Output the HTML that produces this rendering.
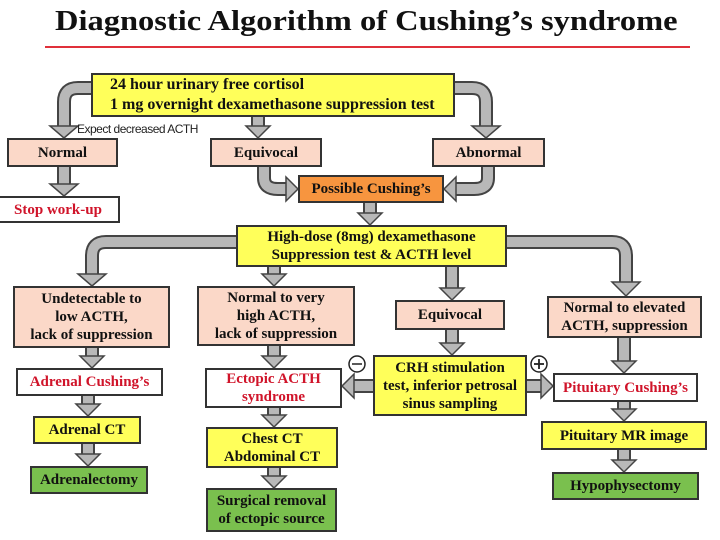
<!DOCTYPE html>
<html><head><meta charset="utf-8"><style>
body{margin:0;width:720px;height:540px;background:#fff;position:relative;overflow:hidden;font-family:"Liberation Serif",serif;}
.b{position:absolute;box-sizing:border-box;border:2px solid #333;display:flex;align-items:center;justify-content:center;text-align:center;font-weight:bold;font-size:15px;line-height:18px;color:#111;}
.y{background:#ffff5a}.p{background:#fbd8c8}.o{background:#f7953f}.g{background:#7ac04e}.w{background:#fff;color:#d0142a}
svg{position:absolute;left:0;top:0}
</style></head><body>
<div style="position:absolute;left:55px;top:5px;font-size:29px;font-weight:bold;color:#111;transform:scaleX(1.12);transform-origin:0 0;white-space:nowrap">Diagnostic Algorithm of Cushing’s syndrome</div>
<div style="position:absolute;left:45px;top:46px;width:645px;height:2px;background:#e0303a"></div>
<svg width="720" height="540">
<g fill="none" stroke-linejoin="round">
<g stroke="#444" stroke-width="14">
<path d="M92 88 H78 Q64 88 64 102 V128"/><path d="M455 88 H472 Q486 88 486 102 V128"/>
<path d="M258 117 V128"/><path d="M64 167 V186"/>
<path d="M264 167 V178 Q264 189 278 189 H288"/><path d="M488 167 V178 Q488 189 474 189 H454"/>
<path d="M370 203 V215"/>
<path d="M236 242 H106 Q92 242 92 256 V276"/><path d="M507 242 H612 Q626 242 626 256 V284"/>
<path d="M274 267 V276"/><path d="M452 267 V290"/>
<path d="M92 348 V358"/><path d="M274 346 V358"/><path d="M452 330 V345"/><path d="M624 338 V363"/>
<path d="M88 396 V406"/><path d="M274 408 V417"/><path d="M624 402 V411"/>
<path d="M88 444 V456"/><path d="M274 468 V478"/><path d="M624 450 V462"/>
<path d="M373 386 H352"/><path d="M527 386 H543"/>
</g>
<g stroke="#b8b8b8" stroke-width="10">
<path d="M92 88 H78 Q64 88 64 102 V128"/><path d="M455 88 H472 Q486 88 486 102 V128"/>
<path d="M258 117 V128"/><path d="M64 167 V186"/>
<path d="M264 167 V178 Q264 189 278 189 H288"/><path d="M488 167 V178 Q488 189 474 189 H454"/>
<path d="M370 203 V215"/>
<path d="M236 242 H106 Q92 242 92 256 V276"/><path d="M507 242 H612 Q626 242 626 256 V284"/>
<path d="M274 267 V276"/><path d="M452 267 V290"/>
<path d="M92 348 V358"/><path d="M274 346 V358"/><path d="M452 330 V345"/><path d="M624 338 V363"/>
<path d="M88 396 V406"/><path d="M274 408 V417"/><path d="M624 402 V411"/>
<path d="M88 444 V456"/><path d="M274 468 V478"/><path d="M624 450 V462"/>
<path d="M375 386 H352"/><path d="M525 386 H543"/>
</g>
</g>
<g fill="#b8b8b8" stroke="#444" stroke-width="1.5">
<polygon points="50,126 78,126 64,138"/><polygon points="472,126 500,126 486,138"/>
<polygon points="246,126 270,126 258,138"/><polygon points="50,184 78,184 64,196"/>
<polygon points="286,177 286,201 298,189"/><polygon points="456,177 456,201 444,189"/>
<polygon points="358,213 382,213 370,225"/>
<polygon points="78,274 106,274 92,286"/><polygon points="612,282 640,282 626,296"/>
<polygon points="262,274 286,274 274,286"/><polygon points="440,288 464,288 452,300"/>
<polygon points="80,356 104,356 92,368"/><polygon points="262,356 286,356 274,368"/>
<polygon points="440,343 464,343 452,355"/><polygon points="612,361 636,361 624,373"/>
<polygon points="76,404 100,404 88,416"/><polygon points="262,415 286,415 274,427"/>
<polygon points="612,409 636,409 624,421"/>
<polygon points="76,454 100,454 88,466"/><polygon points="262,476 286,476 274,488"/>
<polygon points="612,460 636,460 624,472"/>
<polygon points="354,374 354,398 342,386"/><polygon points="541,374 541,398 553,386"/>
</g>
<circle cx="357" cy="364" r="8" fill="#fff" stroke="#222" stroke-width="1.5"/><line x1="352" y1="364" x2="362" y2="364" stroke="#222" stroke-width="1.5"/>
<circle cx="539" cy="364" r="8" fill="#fff" stroke="#222" stroke-width="1.5"/><line x1="534" y1="364" x2="544" y2="364" stroke="#222" stroke-width="1.8"/><line x1="539" y1="359" x2="539" y2="369" stroke="#222" stroke-width="1.8"/>
</svg>
<div style="position:absolute;left:77px;top:122px;font-family:'Liberation Sans',sans-serif;font-size:12px;color:#222;letter-spacing:-0.5px">Expect decreased ACTH</div>
<div class="b y" style="left:91px;top:73px;width:364px;height:44px;justify-content:flex-start;padding-left:17px;text-align:left;font-size:16px;line-height:20px">24 hour urinary free cortisol<br>1 mg overnight dexamethasone suppression test</div>
<div class="b p" style="left:7px;top:138px;width:111px;height:29px">Normal</div>
<div class="b p" style="left:210px;top:138px;width:112px;height:29px">Equivocal</div>
<div class="b p" style="left:432px;top:138px;width:113px;height:29px">Abnormal</div>
<div class="b o" style="left:298px;top:175px;width:146px;height:28px">Possible Cushing’s</div>
<div class="b w" style="left:-2px;top:196px;width:122px;height:27px;border-left:none">Stop work-up</div>
<div class="b y" style="left:236px;top:225px;width:271px;height:42px">High-dose (8mg) dexamethasone<br>Suppression test &amp; ACTH level</div>
<div class="b p" style="left:13px;top:286px;width:157px;height:62px">Undetectable to<br>low ACTH,<br>lack of suppression</div>
<div class="b p" style="left:197px;top:286px;width:158px;height:60px">Normal to very<br>high ACTH,<br>lack of suppression</div>
<div class="b p" style="left:395px;top:300px;width:110px;height:30px">Equivocal</div>
<div class="b p" style="left:547px;top:296px;width:155px;height:42px">Normal to elevated<br>ACTH, suppression</div>
<div class="b w" style="left:16px;top:368px;width:147px;height:28px">Adrenal Cushing’s</div>
<div class="b w" style="left:205px;top:368px;width:137px;height:40px">Ectopic ACTH<br>syndrome</div>
<div class="b y" style="left:373px;top:355px;width:154px;height:61px">CRH stimulation<br>test, inferior petrosal<br>sinus sampling</div>
<div class="b w" style="left:553px;top:373px;width:145px;height:29px">Pituitary Cushing’s</div>
<div class="b y" style="left:33px;top:416px;width:108px;height:28px">Adrenal CT</div>
<div class="b y" style="left:206px;top:427px;width:132px;height:41px">Chest CT<br>Abdominal CT</div>
<div class="b y" style="left:541px;top:421px;width:166px;height:29px">Pituitary MR image</div>
<div class="b g" style="left:30px;top:466px;width:118px;height:28px">Adrenalectomy</div>
<div class="b g" style="left:206px;top:488px;width:131px;height:44px">Surgical removal<br>of ectopic source</div>
<div class="b g" style="left:552px;top:472px;width:147px;height:28px">Hypophysectomy</div>
</body></html>
